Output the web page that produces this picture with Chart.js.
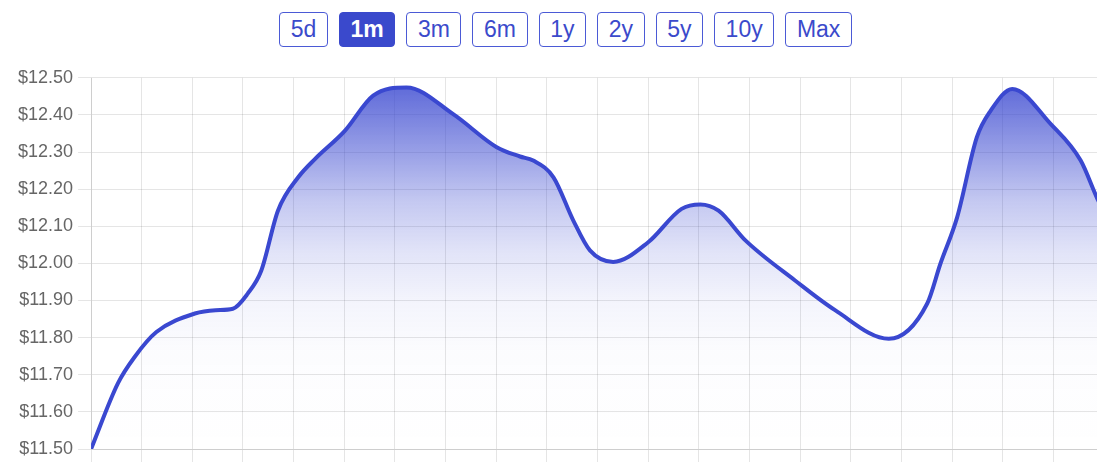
<!DOCTYPE html>
<html>
<head>
<meta charset="utf-8">
<script src="https://cdn.jsdelivr.net/npm/chart.js@4/dist/chart.umd.min.js"></script>
<style>
  html, body { margin: 0; padding: 0; background: #fff; overflow: hidden; width: 1097px; height: 469px; }
  #btns { position: absolute; left: 0; top: 12px; width: 1131px; display: flex; justify-content: center; gap: 11px; }
  #btns button {
    font-family: "Liberation Sans", Arial, sans-serif; font-size: 23px; line-height: 27px;
    padding: 3px 10.6px; border: 1.5px solid #4b5ad6; border-radius: 4px; background: #fff; color: #3b4acb;
    cursor: pointer;
  }
  #btns button.active { background: #3a49cc; color: #fff; font-weight: bold; border-color: #3a49cc; }
  #wrap { position: absolute; left: 0; top: 62px; width: 1104px; height: 407px; }
</style>
</head>
<body>
<div id="btns"></div>
<div id="wrap"><canvas id="c"></canvas></div>
<script>
// Range buttons
const ranges = ["5d", "1m", "3m", "6m", "1y", "2y", "5y", "10y", "Max"];
const activeRange = "1m";

// Price series (x = trading-day position, y = price in $)
const days = [0, 0.53, 0.86, 1.29, 2.05, 2.46, 2.80, 3.09, 3.36, 3.69, 4.09, 4.42, 5.01, 5.57, 6.23,
  7.15, 8.01, 8.47, 8.73, 9.13, 9.52, 9.85, 10.31, 11.00, 11.66, 12.03, 12.39, 12.92, 13.90, 14.69,
  15.75, 16.51, 16.77, 17.10, 17.49, 17.76, 18.19, 18.95, 19.54, 19.87, 20];
const prices = [11.50, 11.677, 11.748, 11.815, 11.865, 11.874, 11.878, 11.918, 11.98, 12.142, 12.232, 12.281, 12.357, 12.452, 12.474,
  12.402, 12.313, 12.288, 12.277, 12.232, 12.116, 12.035, 12.004, 12.057, 12.147, 12.159, 12.142, 12.062, 11.954, 11.874,
  11.797, 11.892, 11.999, 12.124, 12.340, 12.411, 12.470, 12.375, 12.277, 12.174, 12.14];

// Axis settings
const yMin = 11.5, yMax = 12.5, yStep = 0.1;
const xMin = 0, xMax = 20;

const btns = document.getElementById("btns");
ranges.forEach(r => {
  const b = document.createElement("button");
  b.textContent = r;
  if (r === activeRange) b.className = "active";
  btns.appendChild(b);
});

const lineColor = "rgb(58,72,208)";
function fillGradient(ctx) {
  const chart = ctx.chart;
  const a = chart.chartArea;
  if (!a) return "rgba(58,72,208,0.3)";
  const g = chart.ctx.createLinearGradient(0, a.top, 0, a.bottom);
  g.addColorStop(0.00, "rgba(58,72,208,0.85)");
  g.addColorStop(0.06, "rgba(58,72,208,0.75)");
  g.addColorStop(0.20, "rgba(58,72,208,0.52)");
  g.addColorStop(0.33, "rgba(58,72,208,0.30)");
  g.addColorStop(0.47, "rgba(58,72,208,0.15)");
  g.addColorStop(0.60, "rgba(58,72,208,0.06)");
  g.addColorStop(0.74, "rgba(58,72,208,0.015)");
  g.addColorStop(1.00, "rgba(58,72,208,0.0)");
  return g;
}

new Chart(document.getElementById("c"), {
  type: "line",
  data: {
    datasets: [{
      data: days.map((d, i) => ({ x: d, y: prices[i] })),
      borderColor: lineColor,
      borderWidth: 4,
      pointRadius: 0,
      cubicInterpolationMode: "monotone",
      fill: "start",
      backgroundColor: fillGradient
    }]
  },
  options: {
    responsive: true,
    maintainAspectRatio: false,
    animation: false,
    layout: { padding: { left: 13, right: 0, top: 0, bottom: 7 } },
    plugins: { legend: { display: false }, tooltip: { enabled: false } },
    scales: {
      x: {
        type: "linear", min: xMin, max: xMax,
        ticks: { display: false, stepSize: 1 },
        grid: { color: "rgba(0,0,0,0.1)", tickLength: 13 }
      },
      y: {
        min: yMin, max: yMax,
        ticks: {
          stepSize: yStep, padding: 5, color: "#666",
          font: { family: "'Liberation Sans', Arial, sans-serif", size: 18 },
          callback: v => "$" + Number(v).toFixed(2)
        },
        grid: { color: "rgba(0,0,0,0.1)", tickLength: 13 }
      }
    }
  }
});
</script>
</body>
</html>
